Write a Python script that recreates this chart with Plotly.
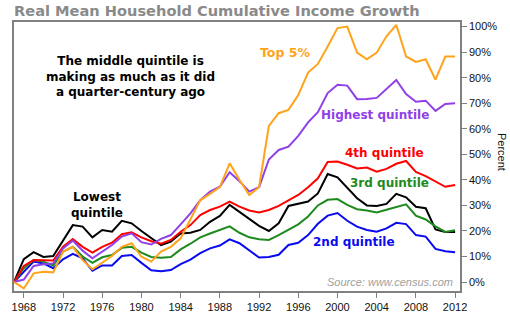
import plotly.graph_objects as go

years = list(range(1967, 2013))

lowest = [0, 9, 11.7, 9.8, 10.2, 16.5, 22.3, 21.7, 17.5, 20.4, 19.7, 24, 23, 20, 17.1, 14.5, 15.8, 19, 19.3, 20.4,
          23.6, 25.9, 30.2, 27.5, 24.5, 22, 20, 23, 29.8, 30.6, 31.5, 34.7, 42.3, 41, 37.1, 32.8, 30, 29.8, 30.6,
          34.5, 33.2, 29.5, 28.9, 20.6, 19.6, 19.6]
second = [0, 4, 8, 7.3, 5.4, 8.9, 11, 9.3, 4.4, 6.5, 6.5, 10.2, 10.6, 7.5, 4.6, 4.2, 4.7, 7, 8.8, 11.3,
          13.2, 14.3, 16.7, 15.2, 12.4, 9.6, 9.8, 10.7, 14.5, 15.4, 18.4, 22.8, 26, 27, 24, 21.7, 20.4, 19.7, 21,
          23.2, 22.7, 18.4, 17.8, 13, 12.1, 11.7]
third = [0, 5.4, 8.6, 8, 6.5, 11.9, 13.8, 10, 7.5, 9.7, 10.6, 13.4, 13.8, 11.5, 9.8, 9.5, 9.8, 12.8, 15, 17.5,
         19, 20.3, 21.8, 19.3, 17.5, 16.8, 16.5, 18.4, 20.5, 22.6, 25.7, 30, 32.2, 32.5, 30.2, 28.5, 28, 27.2, 28.3,
         29.3, 30.4, 26, 24.5, 21.8, 19.6, 20.3]
fourth = [0, 6.3, 8.6, 8.6, 8.4, 13.8, 16.8, 13.8, 11.5, 13.8, 15.4, 18.7, 19.5, 17.5, 16, 15, 16.5, 19.7, 22.3, 26.2,
          28.2, 29.5, 31.5, 29.5, 28, 27.2, 28.2, 29.8, 32, 34.1, 37.1, 40.6, 47, 47.2, 45.9, 44.5, 44.8, 43.2, 44.3,
          46.3, 47.4, 43.1, 41.5, 39.3, 37.3, 38]
highest = [0, 1, 6.3, 7, 7.3, 13.2, 16.2, 12.3, 9.3, 11.9, 14.5, 17.8, 19.1, 15.6, 14.7, 16.9, 18.4, 22.6, 26.9, 32.1,
           35.4, 37.3, 43, 39.5, 35.4, 37.1, 48, 51.7, 53, 57.2, 62.5, 66.5, 74, 77.2, 76.9, 71.6, 71.7, 72.1, 75.5,
           79.1, 73.6, 70.6, 71, 67, 69.7, 70]
top5 = [0, -2.5, 3.4, 4, 3.8, 11.9, 13.8, 8.6, 5, 7.6, 10.2, 13.8, 15.2, 9.9, 8, 11.9, 13.8, 17.1, 24.3, 32,
        34.5, 37.2, 46.5, 40, 34.1, 37.1, 61.1, 66.1, 67.4, 73.2, 82, 85.4, 92.2, 99.4, 100, 89.8, 87.2, 89.8, 96.2,
        100.7, 88.3, 86.2, 87.2, 79.2, 88.3, 88.3]

series = [
    ("Lowest quintile", lowest, "#000000"),
    ("2nd quintile", second, "#0A0AF0"),
    ("3rd quintile", third, "#1E8A1E"),
    ("4th quintile", fourth, "#FF0000"),
    ("Highest quintile", highest, "#9040E8"),
    ("Top 5%", top5, "#FFA31A"),
]

x_ticks = list(range(1968, 2013, 4))
y_ticks = list(range(0, 101, 10))
y_tick_text = [f"{v}%" for v in y_ticks]

W, H = 510, 325
L, R, T, B = 14, 460, 22, 291


def px(x, y):
    return (x - L) / (R - L), (B - y) / (B - T)


fig = go.Figure()
for name, vals, col in series:
    fig.add_trace(go.Scatter(x=years, y=vals, mode="lines", name=name,
                             line=dict(color=col, width=2)))

bold = "DejaVu Sans"
labels = [
    ("The middle quintile is<br>making as much as it did<br>a quarter-century ago", 130, 76, "#000000", 12),
    ("Top 5%", 285, 52, "#FFA31A", 12.5),
    ("Highest quintile", 375, 115, "#9040E8", 12),
    ("4th quintile", 384, 153, "#FF0000", 12),
    ("3rd quintile", 389, 183, "#1E8A1E", 12),
    ("2nd quintile", 354, 242, "#0A0AF0", 12),
    ("Lowest<br>quintile", 97, 205, "#000000", 12),
]
anns = []
for txt, ax, ay, col, sz in labels:
    xx, yy = px(ax, ay)
    anns.append(dict(text="<b>" + txt + "</b>", x=xx, y=yy, xref="paper", yref="paper",
                     showarrow=False, font=dict(family=bold, size=sz, color=col),
                     xanchor="center", yanchor="middle", align="center"))
sx, sy = px(455, 282)
anns.append(dict(text="<i>Source: www.census.com</i>", x=sx, y=sy, xref="paper", yref="paper",
                 showarrow=False, font=dict(family="Liberation Sans", size=11, color="#A0A0A0"),
                 xanchor="right", yanchor="middle"))
tx, ty = px(502, 152)
anns.append(dict(text="Percent", x=tx, y=ty, xref="paper", yref="paper", showarrow=False,
                 textangle=90, font=dict(family="Liberation Sans", size=11, color="#111111"),
                 xanchor="center", yanchor="middle"))

fig.update_layout(
    width=W, height=H,
    margin=dict(l=L, r=W - R, t=T, b=H - B, pad=0),
    paper_bgcolor="white", plot_bgcolor="white",
    showlegend=False,
    title=dict(text="<b>Real Mean Household Cumulative Income Growth</b>",
               x=14 / W, y=1 - 11 / H, xref="container", yref="container",
               xanchor="left", yanchor="middle",
               font=dict(family=bold, size=14.6, color="#8A8A8A")),
    annotations=anns,
    xaxis=dict(range=[1967, 2012.5], tickvals=x_ticks, ticks="outside", ticklen=5,
               tickcolor="#808080", showline=True, linecolor="#808080", linewidth=1.5,
               mirror=True, showgrid=False, zeroline=False,
               tickfont=dict(family="Liberation Sans", size=11, color="#111111")),
    yaxis=dict(range=[-3.5, 101.8], tickvals=y_ticks, ticktext=y_tick_text, side="right",
               ticks="outside", ticklen=5, tickcolor="#808080", showline=True,
               linecolor="#808080", linewidth=1.5, mirror=True, showgrid=False, zeroline=False,
               tickfont=dict(family="Liberation Sans", size=11, color="#111111")),
)

fig.write_html("out.html")
